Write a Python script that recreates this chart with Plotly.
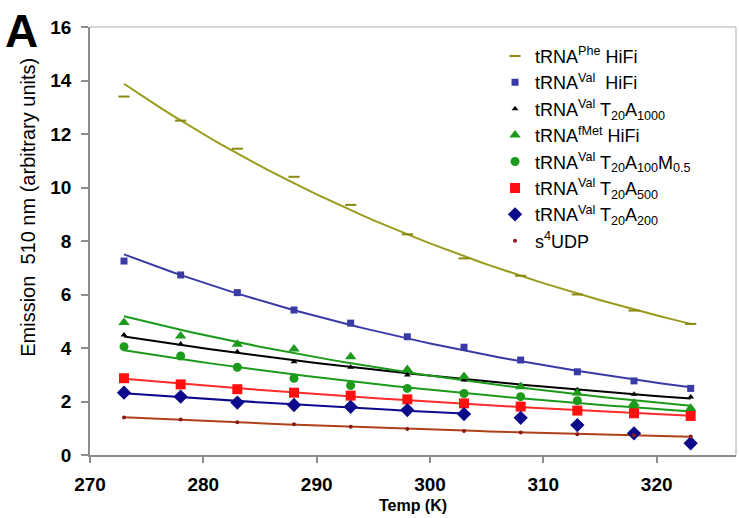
import numpy as np
import plotly.graph_objects as go

temps = [273, 278, 283, 288, 293, 298, 303, 308, 313, 318, 323]

phe_hifi = [13.4, 12.5, 11.45, 10.4, 9.35, 8.25, 7.35, 6.7, 6.0, 5.4, 4.9]
val_hifi = [7.25, 6.73, 6.07, 5.42, 4.93, 4.42, 4.03, 3.55, 3.11, 2.77, 2.49]
val_a1000 = [4.49, 4.15, 3.86, 3.49, 3.28, 2.99, 2.8, 2.62, 2.44, 2.27, 2.17]
fmet_hifi = [4.95, 4.45, 4.14, 3.96, 3.67, 3.2, 2.93, 2.55, 2.32, 1.93, 1.75]
val_a100m = [4.05, 3.7, 3.28, 2.87, 2.6, 2.49, 2.3, 2.18, 2.03, 1.8, 1.6]
val_a500 = [2.87, 2.64, 2.46, 2.33, 2.22, 2.08, 1.93, 1.81, 1.66, 1.56, 1.46]
val_a200 = [2.33, 2.18, 1.96, 1.87, 1.8, 1.68, 1.53, 1.39, 1.12, 0.81, 0.44]
s4udp = [1.4, 1.33, 1.22, 1.15, 1.06, 0.97, 0.9, 0.84, 0.78, 0.74, 0.69]

names = [
    "tRNA<sup>Phe</sup> HiFi",
    "tRNA<sup>Val</sup>  HiFi",
    "tRNA<sup>Val</sup> T<sub>20</sub>A<sub>1000</sub>",
    "tRNA<sup>fMet</sup> HiFi",
    "tRNA<sup>Val</sup> T<sub>20</sub>A<sub>100</sub>M<sub>0.5</sub>",
    "tRNA<sup>Val</sup> T<sub>20</sub>A<sub>500</sub>",
    "tRNA<sup>Val</sup> T<sub>20</sub>A<sub>200</sub>",
    "s<sup>4</sup>UDP",
]
series = [phe_hifi, val_hifi, val_a1000, fmet_hifi, val_a100m, val_a500, val_a200, s4udp]
# number of points used for each trend line
fit_counts = [11, 11, 11, 11, 11, 11, 7, 11]

styles = [
    dict(symbol="line-ew", size=8, color="#9a9a1c", line=dict(width=2, color="#8a8a10")),
    dict(symbol="square", size=7, color="#3a3aa6"),
    dict(symbol="triangle-up", size=6, color="#000000"),
    dict(symbol="triangle-up", size=10, color="#1c9a1c"),
    dict(symbol="circle", size=9, color="#1c9a1c"),
    dict(symbol="square", size=10, color="#ff1010"),
    dict(symbol="diamond", size=11, color="#0a0a8a"),
    dict(symbol="circle", size=4, color="#8b1a1a"),
]
line_colors = ["#9a9a1c", "#3a3aa6", "#000000", "#1c9a1c", "#1c9a1c", "#ff2a2a", "#0a0a8a", "#b0401a"]

fig = go.Figure()
x_arr = np.array(temps, dtype=float)
for name, ys, n, st, lc in zip(names, series, fit_counts, styles, line_colors):
    xs = x_arr[:n]
    yv = np.array(ys[:n], dtype=float)
    b, a = np.polyfit(xs, np.log(yv), 1)
    xf = np.linspace(xs[0], xs[-1], 60)
    yf = np.exp(a + b * xf)
    fig.add_trace(go.Scatter(x=xf, y=yf, mode="lines", line=dict(color=lc, width=2),
                             showlegend=False, hoverinfo="skip"))
for name, ys, st in zip(names, series, styles):
    fig.add_trace(go.Scatter(x=temps, y=ys, mode="markers", name=name, marker=st))

fig.update_layout(
    width=739, height=518,
    margin=dict(l=90, r=3, t=27, b=63),
    paper_bgcolor="white", plot_bgcolor="white",
    font=dict(family="Liberation Sans, Arial, sans-serif", color="#000000"),
    showlegend=True,
    legend=dict(x=0.627, y=0.975, xanchor="left", yanchor="top",
                font=dict(size=18, family="Liberation Sans, Arial, sans-serif"),
                bgcolor="rgba(0,0,0,0)", itemwidth=30, tracegroupgap=0),
    xaxis=dict(range=[270, 327], tickmode="linear", tick0=270, dtick=10,
               showgrid=False, zeroline=False, showline=True, linecolor="#8c8c8c", linewidth=1.5,
               ticks="outside", ticklen=6, tickcolor="#8c8c8c", tickwidth=1.5,
               tickfont=dict(size=19, family="Liberation Sans, Arial, sans-serif"),
               tickprefix="<b>", ticksuffix="</b>", ticklabelstandoff=5,
               title=dict(text="<b>Temp (K)</b>", font=dict(size=16), standoff=6)),
    yaxis=dict(range=[0, 16], tickmode="linear", tick0=0, dtick=2,
               showgrid=False, zeroline=False, showline=True, linecolor="#8c8c8c", linewidth=1.5,
               ticks="outside", ticklen=7, tickcolor="#8c8c8c", tickwidth=1.5,
               tickfont=dict(size=19, family="Liberation Sans, Arial, sans-serif"),
               tickprefix="<b>", ticksuffix="</b>", ticklabelstandoff=6),
    shapes=[
        dict(type="line", xref="paper", yref="paper", x0=0, x1=1, y0=1, y1=1,
             line=dict(color="#c8c8c8", width=1.5)),
        dict(type="line", xref="paper", yref="paper", x0=1, x1=1, y0=0, y1=1,
             line=dict(color="#c8c8c8", width=1.5)),
    ],
    annotations=[
        dict(text="Emission  510 nm (arbitrary units)", textangle=-90, xref="paper", yref="paper",
             x=-0.095, y=0.579, xanchor="center", yanchor="middle", showarrow=False,
             font=dict(size=20, family="Liberation Sans, Arial, sans-serif")),
        dict(text="<b>A</b>", xref="paper", yref="paper", x=-0.135, y=0.99,
             xanchor="left", yanchor="middle", showarrow=False,
             font=dict(size=46, family="Liberation Sans, Arial, sans-serif")),
    ],
)

fig.write_html("out.html")
